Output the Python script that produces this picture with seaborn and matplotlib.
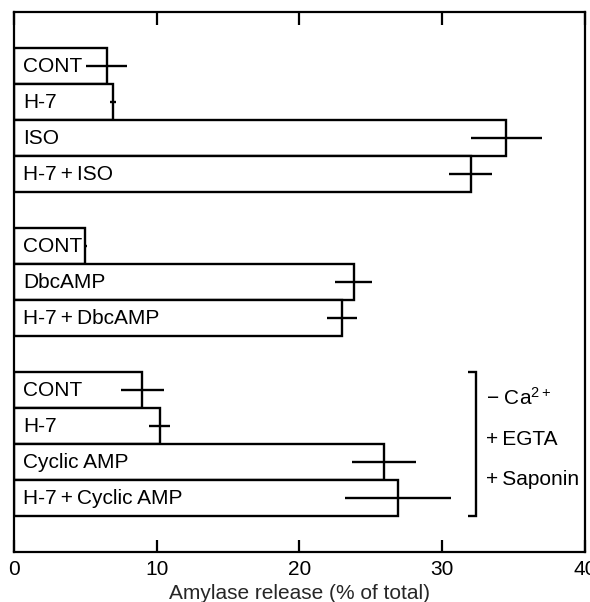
import matplotlib
matplotlib.use("Agg")
import matplotlib.pyplot as plt
import seaborn as sns
import pandas as pd

# ---- data ----
group1_labels = ["CONT", "H-7", "ISO", "H-7\u2009+\u2009ISO"]
group1_values = [6.5, 6.96, 34.5, 32.0]
group1_errors = [1.44, 0.2, 2.5, 1.5]

group2_labels = ["CONT", "DbcAMP", "H-7\u2009+\u2009DbcAMP"]
group2_values = [5.0, 23.8, 23.0]
group2_errors = [0.1, 1.28, 1.05]

group3_labels = ["CONT", "H-7", "Cyclic AMP", "H-7\u2009+\u2009Cyclic AMP"]
group3_values = [9.0, 10.2, 25.9, 26.9]
group3_errors = [1.5, 0.75, 2.24, 3.73]

x_ticks = [0, 10, 20, 30, 40]
x_label = "Amylase release (% of total)"
condition_lines = ["\u2212 Ca$^{2+}$", "+\u2009EGTA", "+\u2009Saponin"]

# ---- build table with slot positions (one empty slot between groups) ----
rows = []
pos = 1
group_spans = []
for gi, (labs, vals, errs) in enumerate([
        (group1_labels, group1_values, group1_errors),
        (group2_labels, group2_values, group2_errors),
        (group3_labels, group3_values, group3_errors)]):
    start = pos
    for l, v, e in zip(labs, vals, errs):
        rows.append(dict(label=l, value=v, err=e, pos=pos, group=gi))
        pos += 1
    group_spans.append((start, pos - 1))
    pos += 1
df = pd.DataFrame(rows)
n_slots = pos  # includes trailing gap

sns.set_theme(style="white")
plt.rcParams["font.family"] = ["Liberation Sans", "DejaVu Sans"]
plt.rcParams["mathtext.fontset"] = "custom"
plt.rcParams["mathtext.rm"] = "Liberation Sans"
plt.rcParams["mathtext.it"] = "Liberation Sans:italic"
plt.rcParams["mathtext.bf"] = "Liberation Sans:bold"

fig = plt.figure(figsize=(5.9, 6.02), dpi=100)
ax = fig.add_axes([0.0237, 0.083, 0.9678, 0.8966])

sns.barplot(data=df, x="value", y="pos", orient="y", native_scale=True,
            color="white", saturation=1, edgecolor="black", linewidth=1.7,
            width=1.0, errorbar=None, ax=ax)

ax.errorbar(df["value"], df["pos"], xerr=df["err"], fmt="none",
            ecolor="black", elinewidth=1.7, capsize=0)

fs = 15
for _, r in df.iterrows():
    ax.text(0.62, r["pos"], r["label"], va="center", ha="left", fontsize=fs,
            color="black")

# bracket for the last group
g3s, g3e = group_spans[2]
top = g3s - 0.5
bot = g3e + 0.5
bx = 32.4
ax.plot([bx - 0.6, bx, bx, bx - 0.6], [top, top, bot, bot], color="black",
        lw=1.7, solid_capstyle="butt", solid_joinstyle="miter")
ty = [top + 0.72, top + 1.88, top + 2.99]
for t, yy in zip(condition_lines, ty):
    ax.text(33.05, yy, t, va="center", ha="left", fontsize=fs, color="black")

ax.set_xlim(0, 40)
ax.set_ylim(n_slots - 0.5, -0.5)
ax.set_xticks(x_ticks)
ax.set_xticklabels([str(t) for t in x_ticks], fontsize=fs)
ax.set_yticks([])
ax.set_ylabel("")
ax.set_xlabel(x_label, fontsize=fs, labelpad=3)
ax.tick_params(axis="x", direction="in", length=9, width=1.6, top=True,
               bottom=True, pad=6, colors="black")
for s in ax.spines.values():
    s.set_visible(True)
    s.set_color("black")
    s.set_linewidth(1.6)

fig.savefig("out.png", dpi=100)
